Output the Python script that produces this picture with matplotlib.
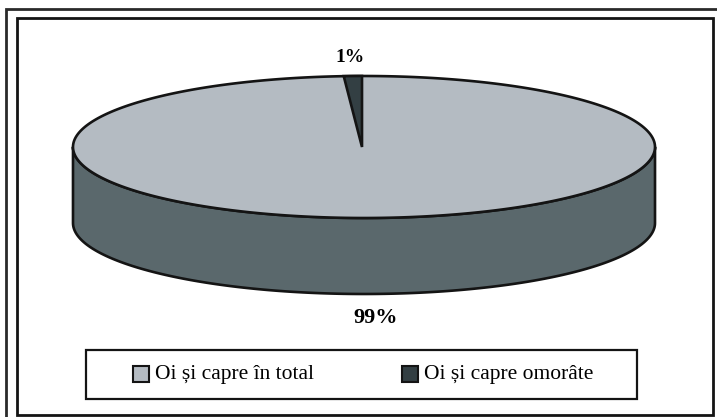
import numpy as np
import matplotlib
matplotlib.use('Agg')
import matplotlib.pyplot as plt
from matplotlib.patches import Rectangle, Polygon

labels = ['Oi și capre în total', 'Oi și capre omorâte']
values = [99, 1]
pct_labels = ['99%', '1%']
colors = ['#b4bbc2', '#333f43']
side_color = '#5a686c'
ink = '#141414'

# work in pixels of the reference, y going down
fig = plt.figure(figsize=(7.17, 4.17), dpi=100)
ax = fig.add_axes([0, 0, 1, 1])
ax.set_xlim(0, 717)
ax.set_ylim(417, 0)
ax.axis('off')

plt.rcParams['font.family'] = ['Liberation Serif', 'DejaVu Serif']

# frames: the outer one runs off the right and bottom of the picture
ax.plot([6, 6, 717], [417, 9, 9], color='#2a2a2a', lw=2, solid_joinstyle='miter')
ax.add_patch(Rectangle((17, 18), 696, 397, fill=False, ec=ink, lw=2))

# pie geometry
cx, cy = 364, 147
rx, ry = 291, 71
depth = 76

# slice angles, clockwise from the top (y going down)
small = values[1] / sum(values) * 360
t = np.radians(np.linspace(0, 180, 200))
front_x = cx + rx * np.cos(t)
front_y = cy + ry * np.sin(t)
ax.add_patch(Polygon(np.r_[np.c_[front_x, front_y], np.c_[front_x[::-1], front_y[::-1] + depth]],
                     fc=side_color, ec=ink, lw=1.9, joinstyle='round'))

t = np.radians(np.linspace(0, 360, 400))
ax.add_patch(Polygon(np.c_[cx + rx * np.cos(t), cy + ry * np.sin(t)],
                     fc=colors[0], ec=ink, lw=1.9))

# small slice at the top, just left of twelve o'clock
a0 = np.radians(-90)
a1 = np.radians(-90 - small)
t = np.linspace(a1, a0, 10)
wedge = np.r_[[[cx - 2, cy]], np.c_[cx + rx * np.cos(t) - 2, cy + ry * np.sin(t)]]
ax.add_patch(Polygon(wedge, fc=colors[1], ec=ink, lw=1.9, joinstyle='miter'))

# percentage labels
ax.text(350, 57, pct_labels[1], fontsize=14, fontweight='bold', ha='center', va='center')
ax.text(376, 318, pct_labels[0], fontsize=16, fontweight='bold', ha='center', va='center')

# legend
ax.add_patch(Rectangle((86, 350), 551, 49, fill=False, ec=ink, lw=1.6))
for x0, text_x, c, lab in zip([133, 402], [155, 424], colors, labels):
    ax.add_patch(Rectangle((x0, 366), 16, 16, fc=c, ec=ink, lw=1.5))
    ax.text(text_x, 374, lab, fontsize=15.5, ha='left', va='center')

fig.savefig('out.png', dpi=100)
